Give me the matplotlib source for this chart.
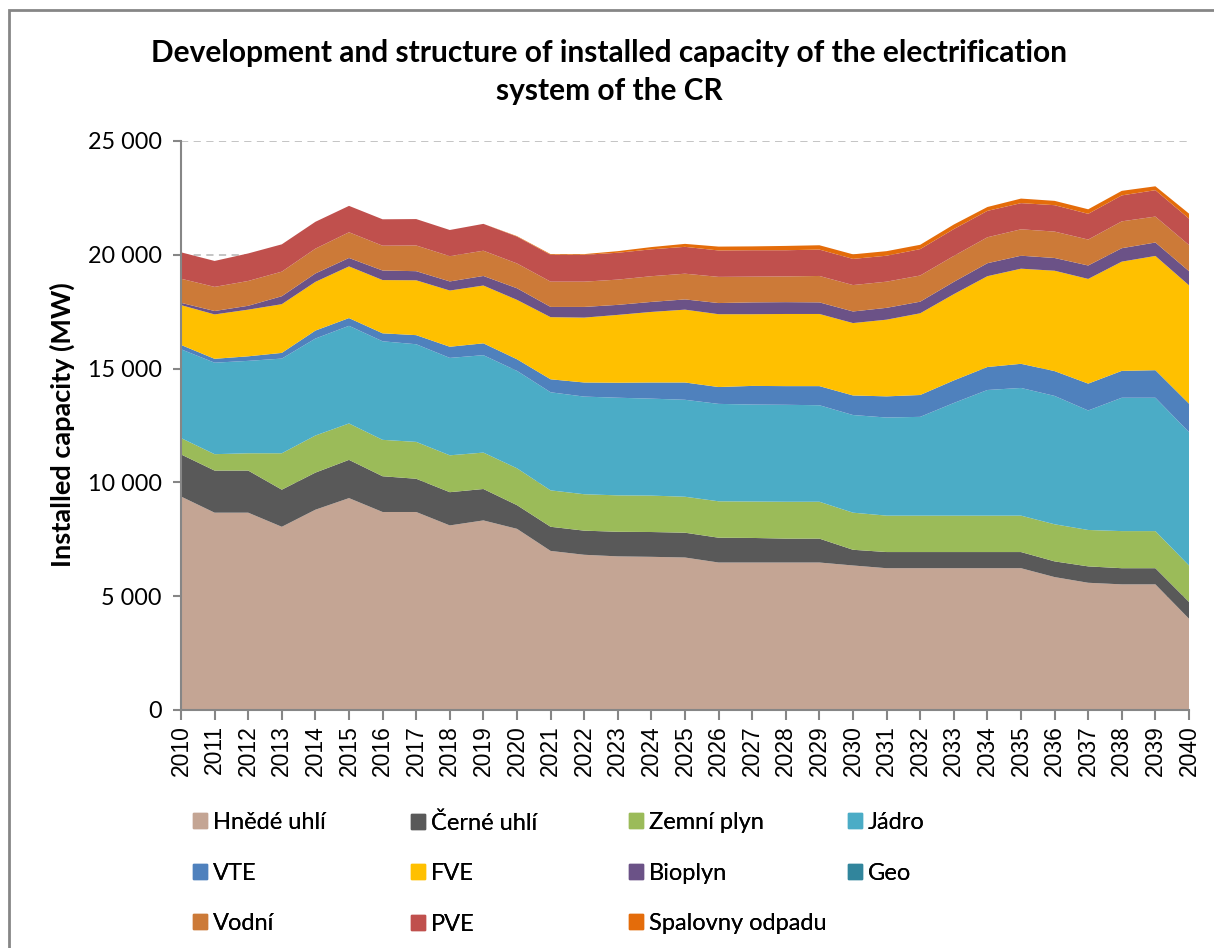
import matplotlib.pyplot as plt
import matplotlib.patches as mpatches
from matplotlib.ticker import FuncFormatter
import numpy as np

years = list(range(2010, 2041))

hnede_uhli = [9380, 8670, 8670, 8050, 8800, 9310, 8700, 8700, 8110, 8330, 7960,
              6990, 6820, 6750, 6730, 6700, 6480, 6480, 6480, 6480, 6350,
              6230, 6230, 6230, 6230, 6230, 5840, 5590, 5520, 5520, 4010]
cerne_uhli = [1850, 1850, 1850, 1630, 1630, 1680, 1570, 1460, 1460, 1380, 1040,
              1060, 1060, 1080, 1090, 1090, 1090, 1080, 1050, 1050, 690,
              710, 710, 710, 710, 710, 690, 720, 710, 710, 740]
zemni_plyn = [720, 720, 760, 1600, 1630, 1600, 1600, 1620, 1620, 1600, 1620,
              1600, 1600, 1600, 1600, 1580, 1600, 1600, 1620, 1620, 1630,
              1600, 1600, 1600, 1600, 1600, 1630, 1600, 1630, 1630, 1600]
jadro = [3900, 4020, 4060, 4160, 4260, 4290, 4330, 4290, 4280, 4280, 4280,
         4310, 4290, 4290, 4260, 4260, 4280, 4260, 4260, 4240, 4290,
         4310, 4340, 4950, 5520, 5610, 5640, 5250, 5860, 5860, 5860]
vte = [190, 170, 200, 250, 350, 340, 350, 400, 490, 520, 510,
       570, 620, 660, 710, 760, 740, 820, 820, 840, 860,
       930, 960, 990, 1010, 1060, 1090, 1180, 1180, 1210, 1250]
fve = [1750, 1950, 2050, 2140, 2140, 2270, 2340, 2410, 2470, 2540, 2610,
       2730, 2850, 2980, 3100, 3200, 3200, 3150, 3170, 3170, 3180,
       3370, 3590, 3790, 3990, 4180, 4410, 4600, 4800, 5020, 5200]
bioplyn = [100, 150, 170, 350, 370, 370, 420, 400, 400, 420, 510,
           450, 470, 440, 440, 450, 490, 520, 520, 510, 510,
           520, 510, 540, 570, 570, 560, 590, 590, 590, 620]
geo = [0] * 31
vodni = [1060, 1060, 1090, 1080, 1090, 1130, 1090, 1130, 1110, 1110, 1090,
         1110, 1110, 1110, 1130, 1130, 1150, 1130, 1130, 1160, 1160,
         1150, 1150, 1140, 1140, 1160, 1160, 1140, 1180, 1140, 1150]
pve = [1160, 1140, 1210, 1200, 1180, 1160, 1160, 1160, 1150, 1180, 1180,
       1180, 1180, 1180, 1180, 1180, 1160, 1160, 1150, 1160, 1150,
       1140, 1160, 1180, 1160, 1150, 1160, 1130, 1140, 1160, 1160]
spalovny = [0, 0, 0, 0, 0, 0, 0, 0, 0, 0, 20,
            30, 30, 70, 100, 130, 170, 170, 190, 190, 200,
            200, 190, 200, 170, 200, 190, 200, 200, 170, 220]

labels = ['Hnědé uhlí', 'Černé uhlí', 'Zemní plyn', 'Jádro', 'VTE', 'FVE',
          'Bioplyn', 'Geo', 'Vodní', 'PVE', 'Spalovny odpadu']
series = [hnede_uhli, cerne_uhli, zemni_plyn, jadro, vte, fve,
          bioplyn, geo, vodni, pve, spalovny]
colors = ['#C4A594', '#595959', '#9BBB59', '#4BACC6', '#4F81BD', '#FFC000',
          '#6B5287', '#31859C', '#CC7A38', '#C0504D', '#E46C0A']

plt.rcParams['font.family'] = ['Lato', 'DejaVu Sans']

fig = plt.figure(figsize=(12.14, 9.48), dpi=100)
ax = fig.add_axes([181 / 1214, 1 - 710 / 948, 1008 / 1214, 569 / 948])

polys = ax.stackplot(years, *series, colors=colors, linewidth=0)

ax.set_xlim(2010, 2040)
ax.set_ylim(0, 25000)
ax.set_xticks(years)
ax.set_xticklabels([str(y) for y in years], rotation=90,
                   fontfamily='Liberation Sans', fontsize=16.5)
ax.set_yticks(np.arange(0, 25001, 5000))
ax.yaxis.set_major_formatter(FuncFormatter(lambda v, p: f'{int(v):,}'.replace(',', ' ')))
ax.tick_params(axis='y', labelsize=16.8, length=6, width=1.5, color='#868686', pad=8)
ax.tick_params(axis='x', length=7, width=1.5, color='#868686', pad=4)

ax.set_axisbelow(True)
ax.grid(axis='y', color='#BFBFBF', linestyle=(0, (4, 3)), linewidth=1.3)
for s in ['top', 'right']:
    ax.spines[s].set_visible(False)
for s in ['left', 'bottom']:
    ax.spines[s].set_color('#868686')
    ax.spines[s].set_linewidth(1.5)

fig.text(0.502, 1 - 72 / 948,
         'Development and structure of installed capacity of the electrification\nsystem of the CR',
         ha='center', va='center', fontsize=21.5, fontweight='bold', linespacing=1.4)
fig.text(62 / 1214, 1 - 425 / 948, 'Installed capacity (MW)', rotation=90,
         ha='center', va='center', fontsize=19.5, fontweight='bold')

# legend in four columns
cols = [[0, 4, 8], [1, 5, 9], [2, 6, 10], [3, 7]]
col_x = [193, 411, 629, 848]
for cx, idx in zip(col_x, cols):
    handles = [mpatches.Patch(color=colors[i]) for i in idx]
    leg = fig.legend(handles, [labels[i] for i in idx], loc='upper left',
                     bbox_to_anchor=(cx / 1214, 1 - 812 / 948), frameon=False,
                     borderpad=0, borderaxespad=0, fontsize=17,
                     handlelength=0.6, handleheight=0.6, handletextpad=0.25,
                     labelspacing=1.25)
    fig.add_artist(leg)

fig.add_artist(mpatches.Rectangle((9 / 1214, -0.1), 2, 1.1 - 10 / 948,
                                  transform=fig.transFigure, fill=False,
                                  edgecolor='#868686', linewidth=2))

fig.savefig('out.png', dpi=100)
